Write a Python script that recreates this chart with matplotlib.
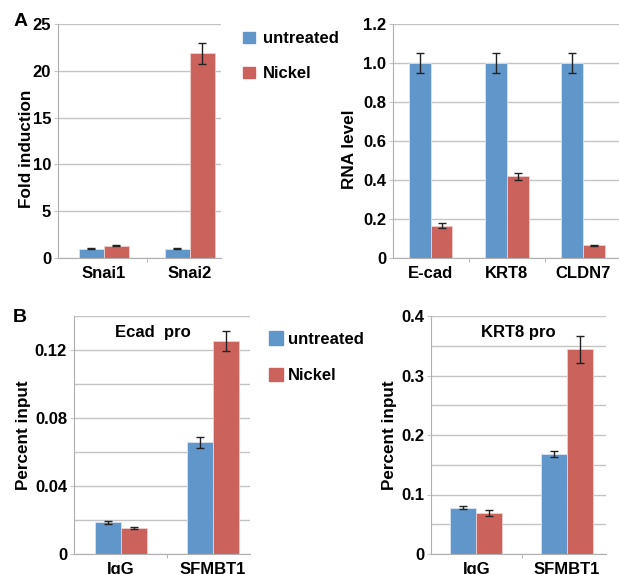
import numpy as np
import matplotlib
matplotlib.use("Agg")
import matplotlib.pyplot as plt
from matplotlib.patches import Patch

plt.rcParams['font.family'] = ['Liberation Sans', 'DejaVu Sans']
plt.rcParams['font.weight'] = 'bold'
plt.rcParams['font.size'] = 12

BLUE = '#6196cb'
RED = '#cc625c'
GRID = '#c4c4c4'

# - - - data
snai_genes = ['Snai1', 'Snai2']
snai_untreated = [1.0, 1.0]
snai_untreated_err = [0.08, 0.08]
snai_nickel = [1.3, 21.85]
snai_nickel_err = [0.07, 1.1]

epi_genes = ['E-cad', 'KRT8', 'CLDN7']
epi_untreated = [1.0, 1.0, 1.0]
epi_untreated_err = [0.05, 0.05, 0.05]
epi_nickel = [0.166, 0.418, 0.065]
epi_nickel_err = [0.011, 0.02, 0.003]

chip_groups = ['IgG', 'SFMBT1']
ecad_untreated = [0.0186, 0.0656]
ecad_untreated_err = [0.0008, 0.0033]
ecad_nickel = [0.0151, 0.1253]
ecad_nickel_err = [0.0006, 0.006]

krt8_untreated = [0.078, 0.1675]
krt8_untreated_err = [0.003, 0.005]
krt8_nickel = [0.0685, 0.344]
krt8_nickel_err = [0.005, 0.023]

W, H = 619, 574
fig = plt.figure(figsize=(W / 100, H / 100), dpi=100)


def make_axes(left, right, top, bottom):
    # positions given in pixels of the final picture
    return fig.add_axes([left / W, 1 - bottom / H, (right - left) / W, (bottom - top) / H])


def bar_panel(ax, cats, v1, e1, v2, e2, xlim, ylim, major, labels, minor, ylabel, width=0.29):
    x = np.arange(len(cats))
    ax.bar(x - width / 2, v1, width, color=BLUE, edgecolor='#d8e4f0', linewidth=0.6, zorder=2)
    ax.bar(x + width / 2, v2, width, color=RED, edgecolor='#efd0ce', linewidth=0.6, zorder=2)
    ax.errorbar(x - width / 2, v1, yerr=e1, fmt='none', ecolor='#222222', elinewidth=1,
                capsize=3, capthick=1, zorder=3)
    ax.errorbar(x + width / 2, v2, yerr=e2, fmt='none', ecolor='#222222', elinewidth=1,
                capsize=3, capthick=1, zorder=3)
    ax.set_xlim(*xlim)
    ax.set_ylim(*ylim)
    ax.set_yticks(major)
    ax.set_yticklabels(labels)
    ax.set_yticks(minor, minor=True)
    ax.grid(True, axis='y', which='both', color=GRID, linewidth=1, zorder=0)
    ax.set_xticks(x)
    ax.set_xticklabels(cats)
    ax.set_xticks(x[:-1] + 0.5, minor=True)
    ax.tick_params(axis='x', which='major', length=0, pad=6)
    ax.tick_params(axis='x', which='minor', length=3, color='#aaaaaa')
    ax.tick_params(axis='y', which='major', length=3, color=GRID, pad=2)
    ax.tick_params(axis='y', which='minor', length=0)
    for s in ['top', 'right']:
        ax.spines[s].set_visible(False)
    for s in ['left', 'bottom']:
        ax.spines[s].set_color('#b0b0b0')
    ax.set_axisbelow(True)
    ax.set_ylabel(ylabel, fontsize=12.3, fontweight='bold')


# - - - A left
ax1 = make_axes(58, 221, 24, 258)
bar_panel(ax1, snai_genes, snai_untreated, snai_untreated_err, snai_nickel, snai_nickel_err,
          (-0.53, 1.36), (0, 25), [0, 5, 10, 15, 20, 25], ['0', '5', '10', '15', '20', '25'],
          [], 'Fold induction')
ax1.yaxis.set_label_coords(-0.15, 0.466)

# - - - A right
ax2 = make_axes(393, 621, 24, 258)
bar_panel(ax2, epi_genes, epi_untreated, epi_untreated_err, epi_nickel, epi_nickel_err,
          (-0.495, 2.5), (0, 1.2), [0, 0.2, 0.4, 0.6, 0.8, 1.0, 1.2],
          ['0', '0.2', '0.4', '0.6', '0.8', '1.0', '1.2'], [], 'RNA level', width=0.285)
ax2.yaxis.set_label_coords(-0.16, 0.466)

# - - - B left
ax3 = make_axes(74, 250, 316, 554)
bar_panel(ax3, chip_groups, ecad_untreated, ecad_untreated_err, ecad_nickel, ecad_nickel_err,
          (-0.51, 1.40), (0, 0.14), [0, 0.04, 0.08, 0.12], ['0', '0.04', '0.08', '0.12'],
          [0.02, 0.06, 0.10, 0.14], 'Percent input', width=0.285)
ax3.yaxis.set_label_coords(-0.245, 0.5)
ax3.text(0.45, 0.93, 'Ecad  pro', transform=ax3.transAxes, ha='center', va='center',
         fontsize=12, fontweight='bold')

# - - - B right
ax4 = make_axes(431, 606, 316, 554)
bar_panel(ax4, chip_groups, krt8_untreated, krt8_untreated_err, krt8_nickel, krt8_nickel_err,
          (-0.50, 1.43), (0, 0.4), [0, 0.1, 0.2, 0.3, 0.4], ['0', '0.1', '0.2', '0.3', '0.4'],
          [0.05, 0.15, 0.25, 0.35], 'Percent input', width=0.285)
ax4.yaxis.set_label_coords(-0.195, 0.5)
ax4.text(0.5, 0.93, 'KRT8 pro', transform=ax4.transAxes, ha='center', va='center',
         fontsize=12, fontweight='bold')

# - - - legends
handles = [Patch(color=BLUE, label='untreated'), Patch(color=RED, label='Nickel')]
fig.legend(handles=handles, loc='upper left', bbox_to_anchor=(237 / W - 0.012, 1 - 18 / H),
           frameon=False, fontsize=12, handlelength=0.7, handleheight=0.7,
           handletextpad=0.5, labelspacing=1.2, borderpad=0.3)
fig.legend(handles=handles, loc='upper left', bbox_to_anchor=(263 / W - 0.012, 1 - 318 / H),
           frameon=False, fontsize=12, handlelength=0.85, handleheight=0.85,
           handletextpad=0.3, labelspacing=1.25, borderpad=0.3)

# - - - panel letters
fig.text(14 / W, 1 - 22 / H, 'A', fontsize=14, fontweight='bold', va='center')
fig.text(13 / W, 1 - 317 / H, 'B', fontsize=14, fontweight='bold', va='center')

fig.savefig('out.png', dpi=100)
